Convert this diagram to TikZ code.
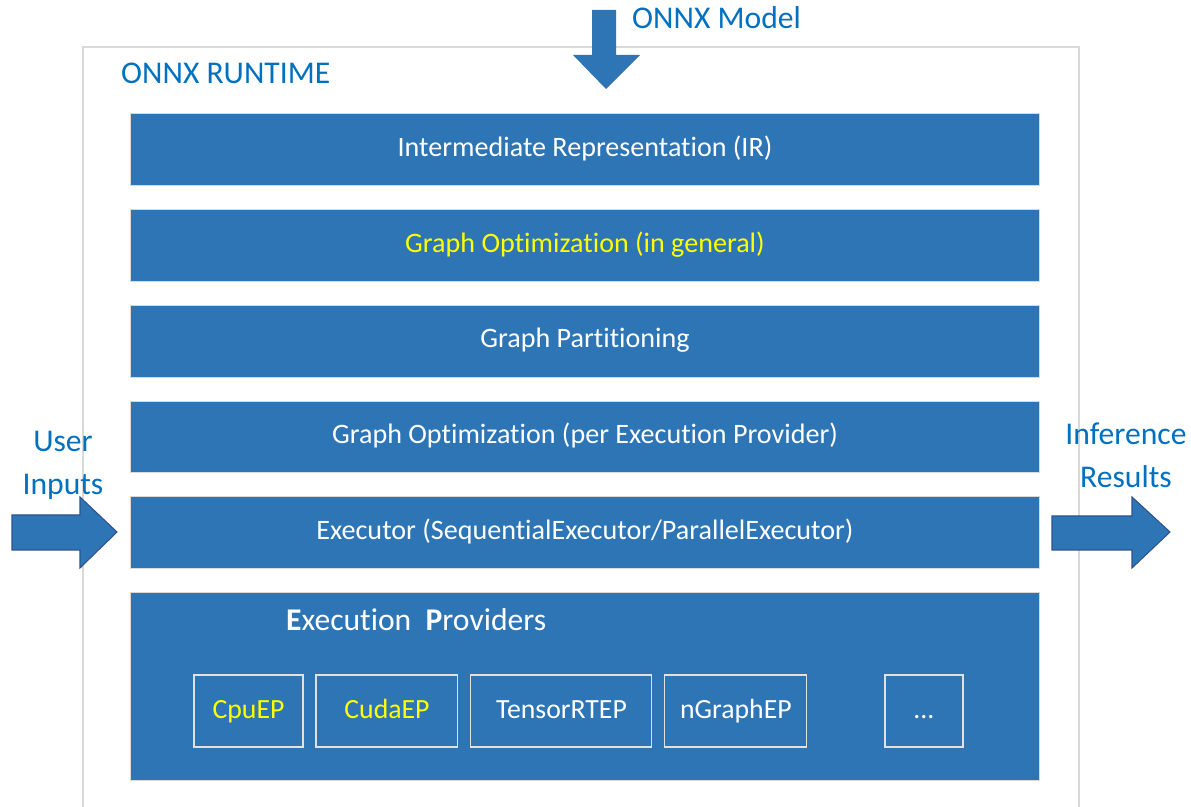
\documentclass[tikz,border=0pt]{standalone}
\usepackage{fontspec}
\setmainfont{Carlito}[Ligatures=NoCommon]
\usetikzlibrary{positioning}

\definecolor{layerblue}{HTML}{2E75B6}
\definecolor{edgeblue}{HTML}{2F528F}
\definecolor{textblue}{HTML}{0070C0}
\definecolor{hiyellow}{HTML}{FFFF00}
\definecolor{framegray}{HTML}{D9D9D9}

\tikzset{
  layer/.style={draw=framegray, line width=0.5pt, fill=layerblue, text=white,
    inner sep=0pt, outer sep=0pt, minimum width=18.2cm, minimum height=1.44cm,
    text height=1em, text depth=0.2em, font=\fontsize{16}{19}\selectfont},
  epbox/.style={draw=framegray!80, line width=0.6pt, text=white,
    inner sep=0pt, outer sep=0pt, minimum height=1.44cm,
    text height=1em, text depth=0.2em, font=\fontsize{15.8}{19}\selectfont},
  caption/.style={text=textblue, font=\fontsize{18}{24.4}\selectfont, align=center},
  bigarrow/.style={fill=layerblue, draw=edgeblue, line width=0.6pt}
}

\begin{document}
\begin{tikzpicture}[x=0.02cm, y=-0.02cm]
\useasboundingbox (0,0) rectangle (1191,807);

% runtime frame
\draw[framegray, line width=0.6pt] (83,810) -- (83,47) -- (1079,47) -- (1079,810);
\node[caption, anchor=west] (runtime) at (115,73) {ONNX RUNTIME};

% layers
\node[layer] (ir) at (585,149) {Intermediate Representation (IR)};
\node[layer, below=0.48cm of ir, text=hiyellow] (gopt) {Graph Optimization (in general)};
\node[layer, below=0.48cm of gopt] (gpart) {Graph Partitioning};
\node[layer, below=0.48cm of gpart] (gopep) {Graph Optimization (per Execution Provider)};
\node[layer, below=0.48cm of gopep] (exec) {Executor (SequentialExecutor/ParallelExecutor)};
\node[layer, below=0.48cm of exec, minimum height=3.76cm] (eps) {};

\node[text=white, font=\fontsize{18}{22}\selectfont, anchor=west] (eptitle) at (280,620)
  {\textbf{E}xecution\hspace{0.45em}\textbf{P}roviders};

% execution providers
\node[epbox, minimum width=2.18cm, text=hiyellow] (cpu) at (248.5,711) {CpuEP};
\node[epbox, minimum width=2.84cm, text=hiyellow, right=0.26cm of cpu] (cuda) {CudaEP};
\node[epbox, minimum width=3.62cm, right=0.26cm of cuda] (trt) {TensorRTEP};
\node[epbox, minimum width=2.84cm, right=0.26cm of trt] (ngraph) {nGraphEP};
\node[epbox, minimum width=1.56cm] (more) at (924,711) {...};

% model in
\fill[layerblue] (592,10) -- (616,10) -- (616,55) -- (640,55) -- (606,89)
  -- (573,55) -- (592,55) -- cycle;
\node[caption, anchor=west] (model) at (626,18) {ONNX Model};

% inputs
\draw[bigarrow] (12,515) -- (80,515) -- (80,497) -- (117,532) -- (80,568)
  -- (80,550) -- (12,550) -- cycle;
\node[caption] (inputs) at (63,465) {User\\Inputs};

% results
\draw[bigarrow] (1052,516) -- (1132,516) -- (1132,497) -- (1170,532) -- (1132,568)
  -- (1132,550) -- (1052,550) -- cycle;
\node[caption] (results) at (1126,455) {Inference\\Results};
\end{tikzpicture}
\end{document}
